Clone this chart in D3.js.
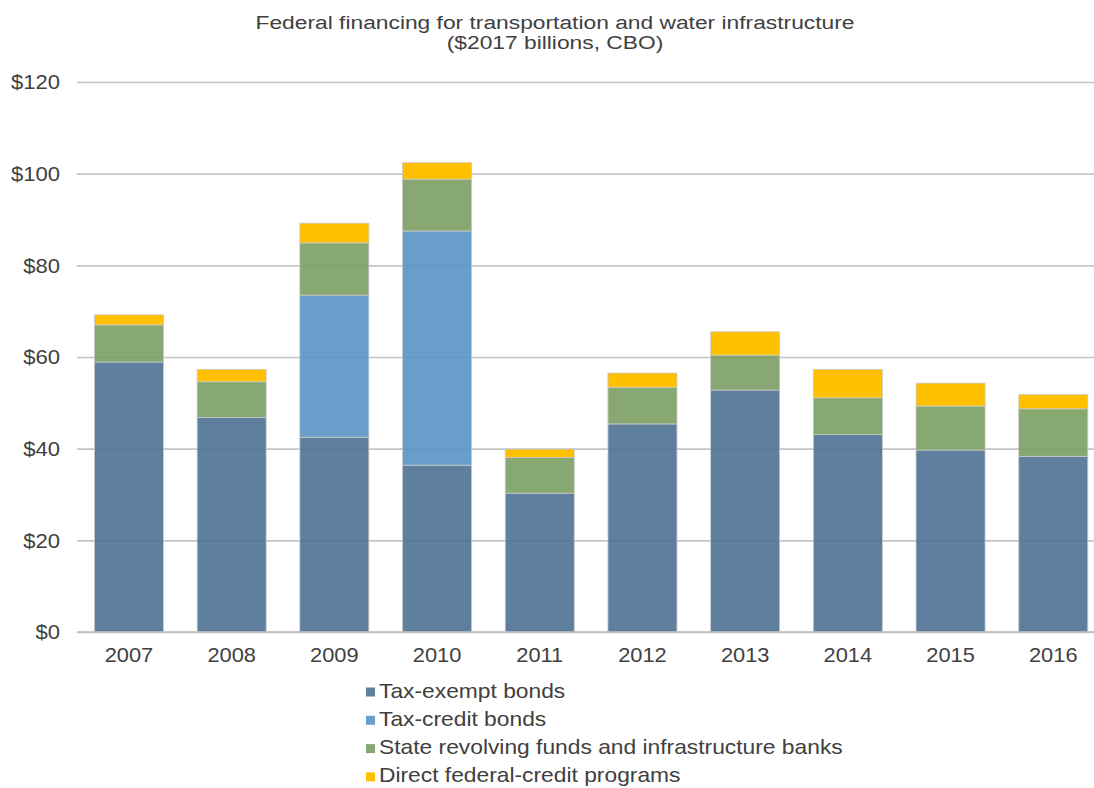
<!DOCTYPE html>
<html>
<head>
<meta charset="utf-8">
<script src="https://cdn.jsdelivr.net/npm/d3@7/dist/d3.min.js"></script>
<style>
  html, body { margin: 0; padding: 0; background: #fff; }
  svg { display: block; font-family: "Liberation Sans", Arial, Helvetica, sans-serif; }
</style>
</head>
<body>
<svg id="chart" width="1094" height="788"></svg>
<script>
// Federal financing for transportation and water infrastructure, $2017 billions
const years = ["2007", "2008", "2009", "2010", "2011", "2012", "2013", "2014", "2015", "2016"];
const taxExemptBonds = [58.9, 46.8, 42.5, 36.4, 30.3, 45.4, 52.8, 43.1, 39.7, 38.3];
const taxCreditBonds = [0, 0, 31.0, 51.1, 0, 0, 0, 0, 0, 0];
const stateRevolvingFunds = [8.1, 7.8, 11.4, 11.3, 7.8, 8.0, 7.6, 8.0, 9.6, 10.4];
const directFederalCredit = [2.2, 2.7, 4.3, 3.6, 1.8, 3.1, 5.1, 6.2, 5.0, 3.1];
const seriesNames = [
  "Tax-exempt bonds",
  "Tax-credit bonds",
  "State revolving funds and infrastructure banks",
  "Direct federal-credit programs"
];
const yTicks = [0, 20, 40, 60, 80, 100, 120];

// Bar fills are slightly translucent so the gridlines show through faintly
const colors = ["#4d7294", "#5993c5", "#7a9e62", "#ffc000"];
const opacities = [0.9, 0.9, 0.9, 1];
const legendColors = ["#5f809f", "#6a9ecb", "#87a872", "#ffc000"];
const seriesValues = [taxExemptBonds, taxCreditBonds, stateRevolvingFunds, directFederalCredit];

const rows = years.map((y, i) => {
  const r = { year: y };
  seriesNames.forEach((s, k) => { r[s] = seriesValues[k][i]; });
  return r;
});

const svg = d3.select("#chart");
const textColor = "#404040";

const x = d3.scaleBand()
  .domain(years)
  .range([77.6, 1104.6])
  .paddingInner(0.328)
  .paddingOuter(0.164);

const y = d3.scaleLinear().domain([0, 120]).range([632, 82]);

// Title (wide-set type)
const titleLines = [
  { text: "Federal financing for transportation and water infrastructure", y: 29 },
  { text: "($2017 billions, CBO)", y: 49 }
];
svg.append("g")
  .selectAll("text")
  .data(titleLines)
  .join("text")
  .attr("transform", d => `translate(555,${d.y}) scale(1.2,1)`)
  .attr("text-anchor", "middle")
  .attr("fill", textColor)
  .style("font-size", "19px")
  .text(d => d.text);

// Gridlines and y labels
const yAxis = d3.axisLeft(y)
  .tickValues(yTicks)
  .tickSize(-(1094 - 77))
  .tickPadding(0)
  .tickFormat(d => "$" + d);

const gy = svg.append("g")
  .attr("transform", "translate(77,0)")
  .call(yAxis);
gy.select(".domain").remove();
gy.selectAll(".tick line")
  .attr("stroke", "#c4c4c4")
  .attr("stroke-width", 1.6);
gy.selectAll(".tick text")
  .attr("x", null)
  .attr("transform", "translate(-17,0) scale(1.05,1)")
  .attr("fill", textColor)
  .style("font-size", "21px")
  .style("font-family", "\"Liberation Sans\", Arial, sans-serif");

// Stacked bars
const stack = d3.stack().keys(seriesNames);
const layers = stack(rows);

svg.append("g")
  .selectAll("g")
  .data(layers)
  .join("g")
  .attr("fill", (d, i) => colors[i])
  .attr("fill-opacity", (d, i) => opacities[i])
  .selectAll("rect")
  .data(d => d.filter(p => p[1] - p[0] > 0))
  .join("rect")
  .attr("x", d => x(d.data.year))
  .attr("width", x.bandwidth())
  .attr("y", d => y(d[1]))
  .attr("height", d => y(d[0]) - y(d[1]))
  .attr("stroke", "#c9c9c9")
  .attr("stroke-width", 0.8);

// Baseline
svg.append("line")
  .attr("x1", 77).attr("x2", 1094)
  .attr("y1", y(0)).attr("y2", y(0))
  .attr("stroke", "#bdbdbd")
  .attr("stroke-width", 1.6);

// X axis labels
const xAxis = d3.axisBottom(x).tickSize(0).tickPadding(0);
const gx = svg.append("g")
  .attr("transform", `translate(0,${y(0)})`)
  .call(xAxis);
gx.select(".domain").remove();
gx.selectAll(".tick text")
  .attr("y", null)
  .attr("dy", null)
  .attr("transform", "translate(0,30) scale(1.04,1)")
  .attr("fill", textColor)
  .style("font-size", "21px")
  .style("font-family", "\"Liberation Sans\", Arial, sans-serif");

// Legend
const legend = svg.append("g").attr("transform", "translate(366,0)");
const legendItems = legend.selectAll("g")
  .data(seriesNames)
  .join("g")
  .attr("transform", (d, i) => `translate(0,${697.5 + i * 28.3})`);
legendItems.append("rect")
  .attr("x", 0).attr("y", -10)
  .attr("width", 9).attr("height", 9)
  .attr("fill", (d, i) => legendColors[i]);
legendItems.append("text")
  .attr("transform", "translate(13,0) scale(1.14,1)")
  .attr("fill", textColor)
  .style("font-size", "20px")
  .text(d => d);
</script>
</body>
</html>
